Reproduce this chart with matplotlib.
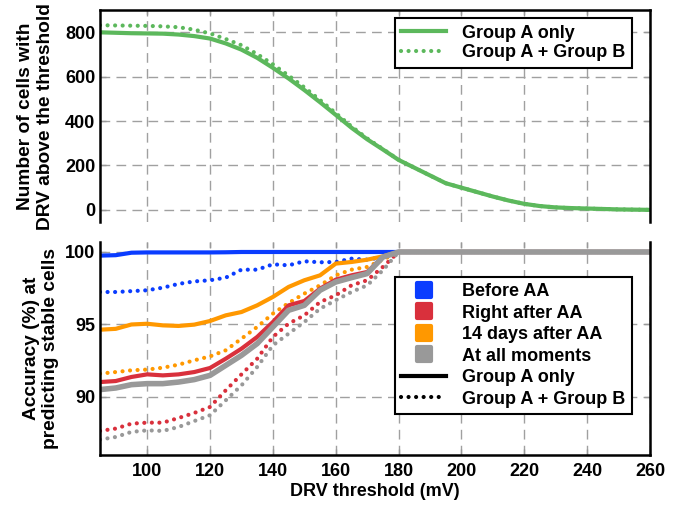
import matplotlib
matplotlib.use("Agg")
import matplotlib.pyplot as plt
from matplotlib.lines import Line2D
from matplotlib.markers import MarkerStyle

plt.rcParams.update({"font.family": ["Liberation Sans", "DejaVu Sans"], "font.weight": "bold",
                     "font.size": 13, "axes.labelweight": "bold"})

# DRV threshold (mV)
thr = [85, 90, 95, 100, 105, 110, 115, 120, 125, 130, 135, 140, 145, 150, 155, 160, 165, 170,
       175, 180, 185, 190, 195, 200, 205, 210, 215, 220, 225, 230, 235, 240, 245, 250, 255, 260]

# number of cells above threshold
cells_a = [800, 798, 796, 795, 794, 790, 783, 772, 750, 722, 685, 640, 592, 540, 485, 428, 370, 318,
           272, 225, 190, 155, 120, 100, 80, 60, 42, 27, 17, 11, 8, 6, 4, 2, 1, 0]
cells_ab = [832, 831, 830, 829, 827, 823, 812, 795, 770, 742, 702, 656, 605, 552, 495, 436, 376, 322,
            274, 226, 190, 155, 120, 100, 80, 60, 42, 27, 17, 11, 8, 6, 4, 2, 1, 0]

TAIL = [100.0] * 16  # 185..260

acc_a = {
    "Before AA": [99.75, 99.78, 99.95, 99.97, 99.97, 99.97, 99.97, 99.97, 99.98, 100, 100, 100, 100, 100,
                  100, 100, 100, 100, 100, 100] + TAIL,
    "Right after AA": [91.03, 91.1, 91.38, 91.56, 91.49, 91.56, 91.72, 92.0, 92.64, 93.33, 94.14, 95.17,
                       96.32, 96.62, 97.47, 98.09, 98.39, 98.62, 99.65, 100] + TAIL,
    "14 days after AA": [94.64, 94.7, 95.0, 95.05, 94.94, 94.9, 94.99, 95.24, 95.63, 95.86, 96.32, 96.9,
                         97.59, 98.05, 98.39, 99.2, 99.31, 99.47, 99.7, 100] + TAIL,
    "At all moments": [90.51, 90.62, 90.85, 90.92, 90.92, 91.03, 91.2, 91.49, 92.18, 92.87, 93.68, 94.83,
                       95.98, 96.32, 97.36, 97.93, 98.23, 98.51, 99.65, 100] + TAIL,
}
acc_ab = {
    "Before AA": [97.24, 97.24, 97.3, 97.36, 97.54, 97.8, 97.97, 98.05, 98.23, 98.78, 98.78, 99.15, 99.08,
                  99.36, 99.29, 99.31, 99.54, 99.47, 99.65, 100] + TAIL,
    "Right after AA": [87.66, 87.82, 88.16, 88.23, 88.23, 88.55, 88.9, 89.31, 90.46, 91.56, 92.64, 94.14,
                       95.06, 95.63, 96.55, 97.01, 97.7, 98.05, 98.97, 100] + TAIL,
    "14 days after AA": [91.61, 91.72, 91.84, 91.89, 92.02, 92.23, 92.53, 92.8, 93.22, 94.02, 94.83, 95.75,
                         96.48, 97.13, 97.7, 98.39, 98.78, 98.97, 99.47, 100] + TAIL,
    "At all moments": [87.06, 87.24, 87.59, 87.7, 87.66, 87.93, 88.34, 88.74, 89.77, 90.8, 92.07, 93.56,
                       94.37, 95.17, 96.09, 96.67, 97.24, 97.7, 98.74, 100] + TAIL,
}

GREEN = "#5cb85c"
COLORS = {"Before AA": "#0a3cff", "Right after AA": "#d9303c",
          "14 days after AA": "#ff9800", "At all moments": "#999999"}
DOT = (0, (0.01, 1.8))

fig = plt.figure(figsize=(6.85, 5.07), dpi=100)
ax1 = fig.add_axes([0.146, 0.562, 0.803, 0.418])
ax2 = fig.add_axes([0.146, 0.1026, 0.803, 0.4204])


def style(ax):
    ax.grid(True, color="#a0a0a0", ls=(0, (7, 4.5)), lw=1)
    ax.set_axisbelow(True)
    ax.tick_params(direction="in", length=4, width=1, top=True, right=True, color="#999999")
    ax.tick_params(axis="x", pad=6)
    for s in ax.spines.values():
        s.set_linewidth(1.8)
    ax.set_xlim(85, 260)
    ax.set_xticks(range(100, 261, 20))


def legend(ax, handles, labels, anchor, spacing):
    leg = ax.legend(handles=handles, labels=labels, loc="upper right", bbox_to_anchor=anchor,
                    borderaxespad=0, fancybox=False, edgecolor="black", framealpha=1,
                    handlelength=2.5, borderpad=0.35, labelspacing=spacing, handletextpad=0.9)
    leg.get_frame().set_linewidth(1.5)


# ---- top: cell counts ----
ax1.plot(thr, cells_a, color=GREEN, lw=3)
ax1.plot(thr, cells_ab, color=GREEN, lw=3, ls=DOT, dash_capstyle="round")
style(ax1)
ax1.spines["bottom"].set_visible(False)
ax1.tick_params(labelbottom=False, bottom=False)
ax1.set_ylim(-55, 900)
ax1.set_yticks([0, 200, 400, 600, 800])
ax1.set_ylabel("Number of cells with\nDRV above the threshold", fontsize=13.8, labelpad=8)
legend(ax1, [Line2D([], [], color=GREEN, lw=3),
             Line2D([], [], color=GREEN, lw=3, ls=DOT, dash_capstyle="round")],
       ["Group A only", "Group A + Group B"], (0.967, 0.962), 0.15)

# ---- bottom: accuracy ----
for name in COLORS:
    ax2.plot(thr, acc_ab[name], color=COLORS[name], lw=3, ls=DOT, dash_capstyle="round")
for name in COLORS:
    ax2.plot(thr, acc_a[name], color=COLORS[name], lw=4 if name == "At all moments" else 3)
style(ax2)
ax2.spines["top"].set_visible(False)
ax2.set_ylim(86, 100.7)
ax2.set_yticks([90, 95, 100])
ax2.set_xlabel("DRV threshold (mV)", labelpad=2)
ax2.set_ylabel("Accuracy (%) at\npredicting stable cells", fontsize=13.8)

sq = MarkerStyle("s", joinstyle="round")
handles = [Line2D([], [], ls="none", marker=sq, markersize=10.5, color=c, markeredgewidth=3)
           for c in COLORS.values()]
handles += [Line2D([], [], color="black", lw=3),
            Line2D([], [], color="black", lw=3, ls=DOT, dash_capstyle="round")]
legend(ax2, handles, list(COLORS) + ["Group A only", "Group A + Group B"], (0.967, 0.836), 0.25)

fig.align_ylabels([ax1, ax2])
fig.savefig("out.png", dpi=100, facecolor="white")
